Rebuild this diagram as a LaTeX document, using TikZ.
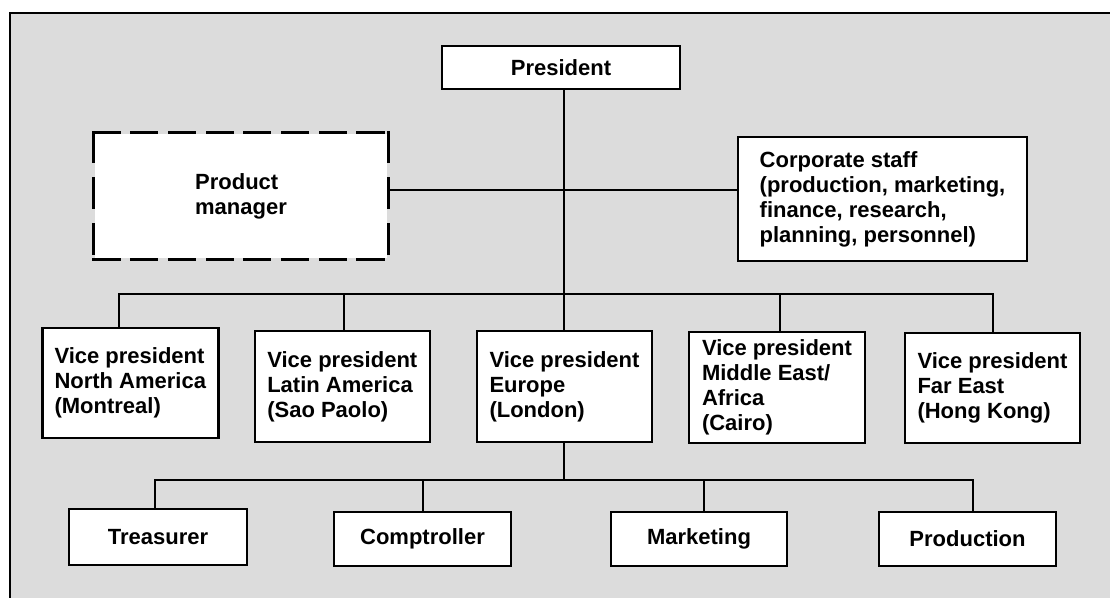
\documentclass[tikz,border=0pt]{standalone}
\usepackage{fontspec}
\setmainfont{Liberation Sans}
\definecolor{paper}{HTML}{DCDCDC}
\begin{document}
\begin{tikzpicture}[x=1pt,y=-1pt,
  box/.style={draw=black, fill=white, line width=2.6pt, rectangle, inner sep=0pt,
    align=left, font=\fontsize{22}{25}\selectfont\bfseries},
  hdash/.style={line width=2.6pt, line cap=rect, dash pattern=on 25.6pt off 12.1pt},
  vdash/.style={line width=2.6pt, line cap=rect, dash pattern=on 29.4pt off 16.6pt},
  conn/.style={line width=2pt, line cap=rect}]
\useasboundingbox (0,0) rectangle (1110,597);
\fill[paper] (10,13) rectangle (1115,602);
\draw[line width=2.8pt] (10,602) -- (10,13) -- (1115,13);

% nodes
\node[box, minimum width=238pt, minimum height=43pt] (pres) at (561,67.5) {President};
\node[box, minimum width=292pt, minimum height=124pt, draw=none] (pm) at (241,196) {Product\\manager};
\draw[hdash] (pm.north west) -- (pm.north east);
\draw[hdash] (pm.south west) -- (pm.south east);
\draw[vdash] (pm.north west) -- (pm.south west);
\draw[vdash] (pm.north east) -- (pm.south east);
\node[box, minimum width=289pt, minimum height=124pt] (cs) at (882.5,199) {Corporate staff\\(production, marketing,\\finance, research,\\planning, personnel)};

\node[box, minimum width=176pt, minimum height=110pt] (vp1) at (130.3,383) {Vice president\\North America\\(Montreal)};
\node[box, minimum width=175pt, minimum height=111pt] (vp2) at (342.3,386.5) {Vice president\\Latin America\\(Sao Paolo)};
\node[box, minimum width=175pt, minimum height=111pt] (vp3) at (564.5,386.5) {Vice president\\Europe\\(London)};
\node[box, minimum width=176pt, minimum height=111pt] (vp4) at (777,387.5) {Vice president\\Middle East/\\Africa\\(Cairo)};
\node[box, minimum width=175pt, minimum height=110pt] (vp5) at (992.5,388) {Vice president\\Far East\\(Hong Kong)};

\node[box, minimum width=178pt, minimum height=56pt] (tr) at (158,537) {Treasurer};
\node[box, minimum width=177pt, minimum height=54pt] (co) at (422.5,539) {Comptroller};
\node[box, minimum width=176pt, minimum height=54pt] (mk) at (699,539) {Marketing};
\node[box, minimum width=177pt, minimum height=54pt] (pr) at (967.5,539) {Production};

% helper coordinates
\coordinate (trunk) at (564,0);
\coordinate (staffy) at (0,190);
\coordinate (bus) at (0,294);
\coordinate (lowbus) at (0,480);
\coordinate (d1) at (119,0);
\coordinate (d2) at (344,0);
\coordinate (d4) at (780,0);
\coordinate (d5) at (993,0);
\coordinate (e1) at (155,0);
\coordinate (e2) at (423,0);
\coordinate (e3) at (704,0);
\coordinate (e4) at (972.5,0);

% connectors
\draw[conn] (pm.east |- staffy) -- (cs.west |- staffy);
\draw[conn] (pres.south -| trunk) -- (vp3.north -| trunk);
\draw[conn] (bus -| d1) -- (bus -| d5);
\draw[conn] (bus -| d1) -- (vp1.north -| d1);
\draw[conn] (bus -| d2) -- (vp2.north -| d2);
\draw[conn] (bus -| d4) -- (vp4.north -| d4);
\draw[conn] (bus -| d5) -- (vp5.north -| d5);
\draw[conn] (vp3.south -| trunk) -- (lowbus -| trunk);
\draw[conn] (lowbus -| e1) -- (lowbus -| e4);
\draw[conn] (lowbus -| e1) -- (tr.north -| e1);
\draw[conn] (lowbus -| e2) -- (co.north -| e2);
\draw[conn] (lowbus -| e3) -- (mk.north -| e3);
\draw[conn] (lowbus -| e4) -- (pr.north -| e4);
\end{tikzpicture}
\end{document}
